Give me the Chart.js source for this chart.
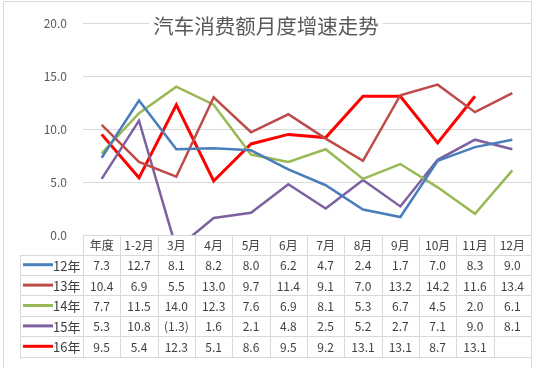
<!DOCTYPE html>
<html>
<head>
<meta charset="utf-8">
<script src="https://cdn.jsdelivr.net/npm/chart.js@4"></script>
<style>
html,body{margin:0;padding:0;background:#fff;}
#wrap{width:534px;height:368px;position:relative;}
</style>
</head>
<body>
<div id="wrap"><canvas id="c" width="534" height="368"></canvas></div>
<script>
const chartTitle = '汽车消费额月度增速走势';
const categories = ['年度','1-2月','3月','4月','5月','6月','7月','8月','9月','10月','11月','12月'];
const seriesNames = ['12年','13年','14年','15年','16年'];
const s12 = [7.3,12.7,8.1,8.2,8.0,6.2,4.7,2.4,1.7,7.0,8.3,9.0];
const s13 = [10.4,6.9,5.5,13.0,9.7,11.4,9.1,7.0,13.2,14.2,11.6,13.4];
const s14 = [7.7,11.5,14.0,12.3,7.6,6.9,8.1,5.3,6.7,4.5,2.0,6.1];
const s15 = [5.3,10.8,-1.3,1.6,2.1,4.8,2.5,5.2,2.7,7.1,9.0,8.1];
const s16 = [9.5,5.4,12.3,5.1,8.6,9.5,9.2,13.1,13.1,8.7,13.1,null];
const yTicks = [0,5,10,15,20];
const colors = ['#4a7ebb','#be4b48','#98b954','#7d60a0','#ff0000'];
const widths = [2.5,2.5,2.5,2.5,3];
const allSeries = [s12,s13,s14,s15,s16];

const FONT = '"Noto Sans CJK SC","DejaVu Sans",sans-serif';
const GRID = '#d9d9d9';
const TXT = '#404040';

function fmt(v){
  if (v === null || v === undefined) return '';
  return v < 0 ? '(' + Math.abs(v).toFixed(1) + ')' : v.toFixed(1);
}

const tablePlugin = {
  id: 'tablePlugin',
  afterDraw(chart){
    const ctx = chart.ctx;
    const xs = chart.scales.x;
    const ca = chart.chartArea;
    const n = categories.length;
    const colW = (ca.right - ca.left) / n;
    const top = ca.bottom - 0.5;
    const headH = 20;
    const rowH = 20.4;
    const legLeft = 20.5;
    const bottom = top + headH + rowH * seriesNames.length;
    ctx.save();
    ctx.strokeStyle = GRID;
    ctx.lineWidth = 1;
    ctx.strokeRect(3.5, 1.5, 528, 372);
    ctx.beginPath();
    ctx.moveTo(ca.left, Math.round(top)+0.5); ctx.lineTo(ca.right, Math.round(top)+0.5);
    for (let r = 0; r <= seriesNames.length; r++){
      const y = Math.round(top + headH + r*rowH) + 0.5;
      ctx.moveTo(legLeft, y); ctx.lineTo(ca.right, y);
    }
    for (let i = 0; i <= n; i++){
      const x = Math.round(xs.getPixelForValue(Math.min(i, n-1)) + (i === n ? colW/2 : -colW/2)) + 0.5;
      ctx.moveTo(x, Math.round(top)); ctx.lineTo(x, Math.round(bottom)+1);
    }
    ctx.moveTo(legLeft, Math.round(top+headH)); ctx.lineTo(legLeft, Math.round(bottom)+1);
    ctx.stroke();

    ctx.fillStyle = TXT;
    ctx.textAlign = 'center';
    ctx.textBaseline = 'middle';
    ctx.font = '12px ' + FONT;
    categories.forEach((c,i) => {
      ctx.fillText(c, xs.getPixelForValue(i), top + headH/2 + 1);
    });
    allSeries.forEach((arr, r) => {
      const yc = top + headH + r*rowH + rowH/2 + 1;
      arr.forEach((v,i) => {
        ctx.fillText(fmt(v), xs.getPixelForValue(i), yc);
      });
      ctx.save();
      ctx.strokeStyle = colors[r];
      ctx.lineWidth = 3;
      ctx.beginPath();
      ctx.moveTo(23, yc - 1); ctx.lineTo(53, yc - 1);
      ctx.stroke();
      ctx.restore();
      ctx.save();
      ctx.textAlign = 'left';
      ctx.font = '13px ' + FONT;
      ctx.fillText(seriesNames[r], 53, yc);
      ctx.restore();
    });

    ctx.font = '20.5px ' + FONT;
    const tw = ctx.measureText(chartTitle).width;
    const cx = 266;
    ctx.fillStyle = '#fff';
    ctx.fillRect(cx - tw/2 - 4, 12, tw + 8, 26);
    ctx.fillStyle = '#595959';
    ctx.textAlign = 'center';
    ctx.fillText(chartTitle, cx, 26);
    ctx.restore();
  }
};

new Chart(document.getElementById('c'), {
  type: 'line',
  data: {
    labels: categories,
    datasets: seriesNames.map((name, i) => ({
      label: name,
      data: allSeries[i],
      borderColor: colors[i],
      backgroundColor: colors[i],
      borderWidth: widths[i],
      pointRadius: 0,
      tension: 0,
      fill: false,
      spanGaps: false
    }))
  },
  options: {
    responsive: false,
    animation: false,
    devicePixelRatio: 1,
    layout: { padding: { top: 22, bottom: 133, right: 3, left: 0 } },
    plugins: { legend: { display: false }, title: { display: false }, tooltip: { enabled: false } },
    scales: {
      x: { type: 'category', display: false, offset: true },
      y: {
        min: 0, max: 20,
        afterFit: s => { s.width = 83; },
        afterBuildTicks: s => { s.ticks = yTicks.map(v => ({ value: v })); },
        ticks: {
          padding: 16,
          color: '#595959',
          font: { size: 12, family: FONT },
          callback: v => Number(v).toFixed(1)
        },
        grid: { color: GRID, drawTicks: false },
        border: { display: false }
      }
    }
  },
  plugins: [tablePlugin]
});
</script>
</body>
</html>
